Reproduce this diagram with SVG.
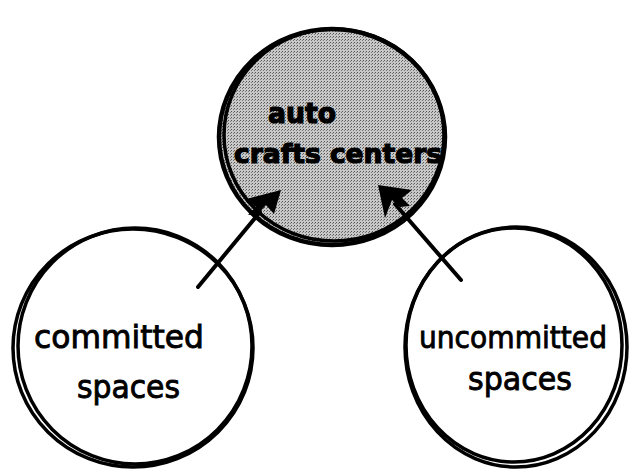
<svg xmlns="http://www.w3.org/2000/svg" width="629" height="471" viewBox="0 0 629 471">
<style>
.ring{fill:none;stroke:#000;stroke-width:3.5}
.lbl{font-family:"DejaVu Sans","Liberation Sans",sans-serif;fill:#000;stroke:#000;stroke-width:0.9}
.top{font-weight:bold;stroke-width:1.2}
.conn{stroke:#000;stroke-width:4;stroke-linecap:round;fill:none}
</style>
<defs>
<pattern id="dots" width="3" height="3" patternUnits="userSpaceOnUse">
<rect width="3" height="3" fill="#c8c8c8"/>
<rect width="1" height="1" fill="#555"/>
<rect x="2" y="1" width="1" height="1" fill="#777"/>
</pattern>
</defs>
<g id="auto-crafts-centers">
<ellipse cx="332" cy="137" rx="113" ry="108" fill="url(#dots)" stroke="#000" stroke-width="4.5"/>
<ellipse cx="334" cy="135" rx="110" ry="106" class="ring" stroke-width="2"/>
<text class="lbl top" x="268" y="123" font-size="28" textLength="68" lengthAdjust="spacingAndGlyphs">auto</text>
<text class="lbl top" x="234" y="163" font-size="27" textLength="208" lengthAdjust="spacingAndGlyphs">crafts centers</text>
</g>
<g id="committed-spaces">
<ellipse cx="133" cy="348" rx="120" ry="119" fill="#fff" class="ring"/>
<ellipse cx="135" cy="346" rx="117" ry="118" class="ring" stroke-width="2"/>
<text class="lbl" x="34" y="348" font-size="32" textLength="170" lengthAdjust="spacingAndGlyphs">committed</text>
<text class="lbl" x="77" y="398" font-size="32" textLength="103" lengthAdjust="spacingAndGlyphs">spaces</text>
</g>
<g id="uncommitted-spaces">
<ellipse cx="516" cy="347" rx="111" ry="120" fill="#fff" class="ring"/>
<ellipse cx="514" cy="345" rx="108" ry="117" class="ring" stroke-width="2"/>
<text class="lbl" x="419" y="348" font-size="31" textLength="188" lengthAdjust="spacingAndGlyphs">uncommitted</text>
<text class="lbl" x="468" y="390" font-size="32" textLength="104" lengthAdjust="spacingAndGlyphs">spaces</text>
</g>
<g id="connectors">
<line class="conn" x1="198" y1="287" x2="260" y2="212"/>
<polygon points="281,190 246,199 256,207 248,215 258,214 266,205 274,214" fill="#000"/>
<line class="conn" x1="461" y1="280" x2="395" y2="204"/>
<polygon points="378,185 412,190 402,198 410,206 400,207 392,200 385,218" fill="#000"/>
</g>
</svg>
